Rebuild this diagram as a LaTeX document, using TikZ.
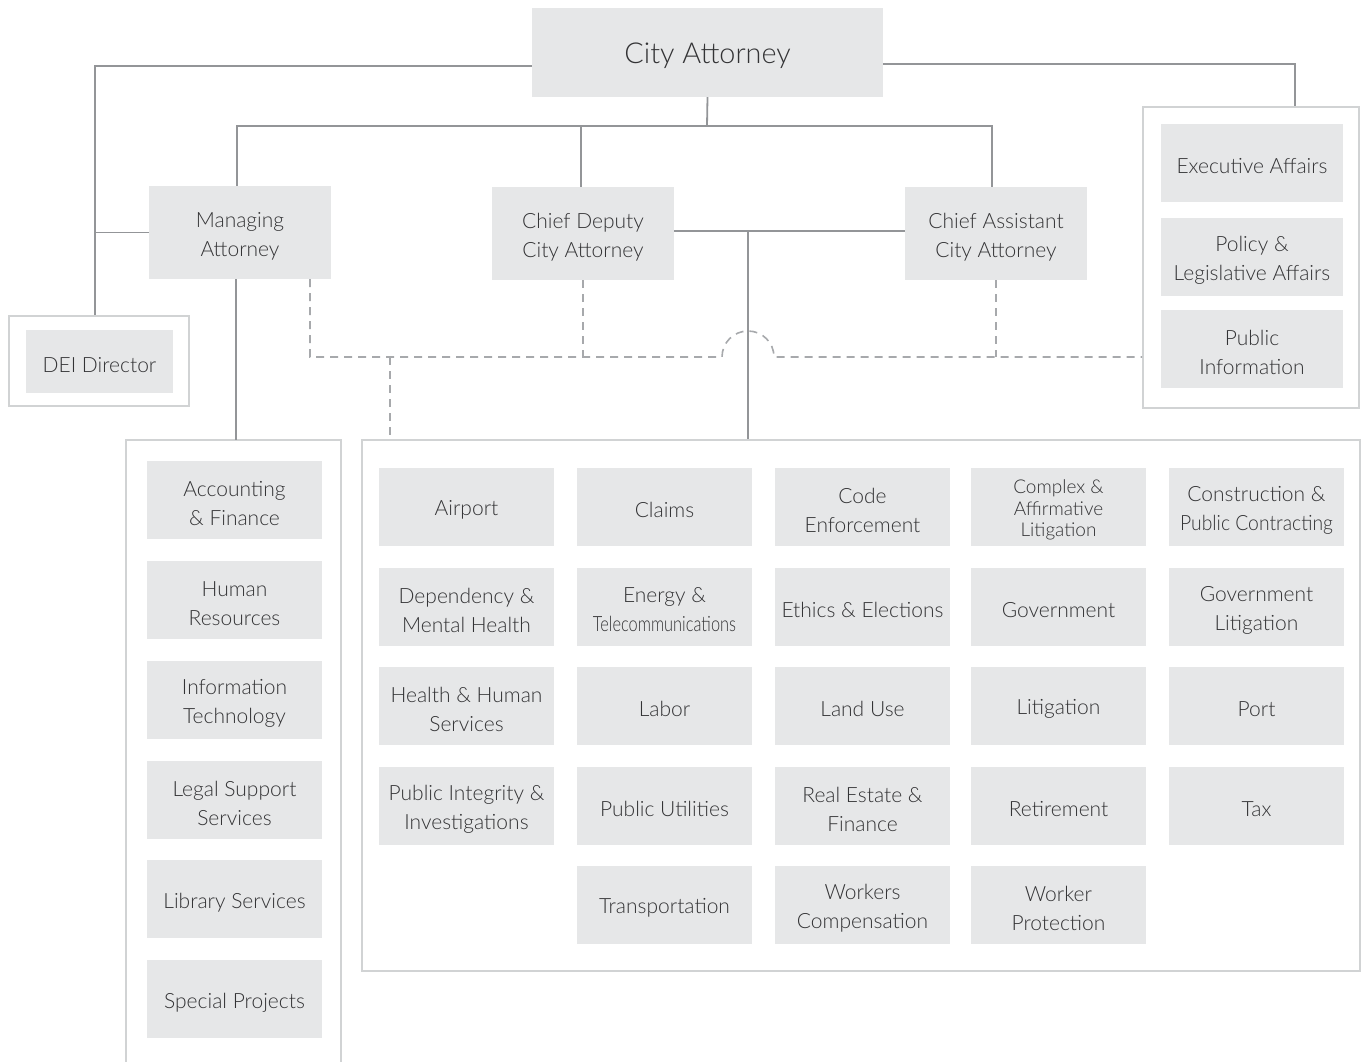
\documentclass[tikz,border=0pt]{standalone}
\usepackage{fontspec}
\setmainfont{Lato Light}
\usepackage{graphicx}
\usetikzlibrary{calc}
\definecolor{boxfill}{HTML}{E6E7E8}
\definecolor{txt}{HTML}{333335}
\definecolor{linegray}{HTML}{939598}
\definecolor{contline}{HTML}{D1D3D4}
\definecolor{dashgray}{HTML}{A7A9AC}
\begin{document}
\begin{tikzpicture}[x=1pt,y=-1pt,
  boxtext/.style={text=txt, align=center, inner sep=0pt, yshift=-3.5pt,
    font=\fontsize{21}{29}\selectfont},
  box/.style={fill=boxfill, inner sep=0pt, minimum width=175pt, minimum height=78pt,
    label={[boxtext]center:{#1}}},
  sbox/.style={fill=boxfill, inner sep=0pt, minimum width=175pt, minimum height=78pt,
    label={[boxtext, font=\fontsize{19}{21.5}\selectfont]center:{#1}}},
  bigbox/.style={fill=boxfill, inner sep=0pt,
    label={[boxtext, font=\fontsize{28.8}{34}\selectfont]center:{#1}}},
  cont/.style={draw=contline, line width=2pt, fill=white, inner sep=0pt},
  link/.style={draw=linegray, line width=1.8pt},
  dlink/.style={draw=dashgray, line width=1.6pt, dash pattern=on 8pt off 6pt}]
\useasboundingbox (0,0) rectangle (1361,1061);

% containers
\node[cont, minimum width=998pt, minimum height=531pt] (grid) at (861,705.5) {};
\node[cont, minimum width=216pt, minimum height=301pt] (rc) at (1251,257.5) {};
\node[cont, minimum width=180pt, minimum height=90pt] (dc) at (99,361) {};
\coordinate (ltop) at (236,440);
\draw[draw=contline, line width=2pt] (126,1065) -- (126,440) -- (341,440) -- (341,1065);

% top level
\node[bigbox={City Attorney}, minimum width=351pt, minimum height=89pt] (ca) at (707.5,52.5) {};
\node[box={Managing\\Attorney}, minimum width=182pt, minimum height=93pt] (ma) at (240,232.5) {};
\node[box={Chief Deputy\\City Attorney}, minimum width=182pt, minimum height=93pt] (cdc) at (583,233.5) {};
\node[box={Chief Assistant\\City Attorney}, minimum width=182pt, minimum height=93pt] (cac) at (996,233.5) {};

% right group
\node[box={Executive Affairs}, minimum width=182pt] (ea) at (1252,163) {};
\node[box={Policy \&\\Legislative Affairs}, minimum width=182pt] (pla) at (1252,257) {};
\node[box={Public\\Information}, minimum width=182pt] (pi) at (1252,349) {};

% DEI
\node[box={DEI Director}, minimum width=147pt, minimum height=63pt] (dei) at (99.5,361.5) {};

% left column
\node[box={Accounting\\\& Finance}] (af) at (234.5,500) {};
\node[box={Human\\Resources}] (hr) at (234.5,600) {};
\node[box={Information\\Technology}] (it) at (234.5,700) {};
\node[box={Legal Support\\Services}] (ls) at (234.5,800) {};
\node[box={Library Services}] (lib) at (234.5,899) {};
\node[box={Special Projects}] (sp) at (234.5,999) {};

% grid
\node[box={Airport}] (g11) at (466.5,506.5) {};
\node[box={Claims}] (g12) at (664.5,506.5) {};
\node[box={Code\\Enforcement}] (g13) at (862.5,506.5) {};
\node[sbox={Complex \&\\Affirmative\\Litigation}] (g14) at (1058.5,506.5) {};
\node[box={Construction \&\\\scalebox{0.92}[1]{Public Contracting}}] (g15) at (1256.5,506.5) {};

\node[box={Dependency \&\\Mental Health}] (g21) at (466.5,606.5) {};
\node[box={Energy \&\\\scalebox{0.78}[1]{Telecommunications}}] (g22) at (664.5,606.5) {};
\node[box={Ethics \& Elections}] (g23) at (862.5,606.5) {};
\node[box={Government}] (g24) at (1058.5,606.5) {};
\node[box={Government\\Litigation}] (g25) at (1256.5,606.5) {};

\node[box={Health \& Human\\Services}] (g31) at (466.5,705.5) {};
\node[box={Labor}] (g32) at (664.5,705.5) {};
\node[box={Land Use}] (g33) at (862.5,705.5) {};
\node[box={Litigation}] (g34) at (1058.5,705.5) {};
\node[box={Port}] (g35) at (1256.5,705.5) {};

\node[box={Public Integrity \&\\Investigations}] (g41) at (466.5,805.5) {};
\node[box={Public Utilities}] (g42) at (664.5,805.5) {};
\node[box={Real Estate \&\\Finance}] (g43) at (862.5,805.5) {};
\node[box={Retirement}] (g44) at (1058.5,805.5) {};
\node[box={Tax}] (g45) at (1256.5,805.5) {};

\node[box={Transportation}] (g52) at (664.5,904.5) {};
\node[box={Workers\\Compensation}] (g53) at (862.5,904.5) {};
\node[box={Worker\\Protection}] (g54) at (1058.5,904.5) {};

% solid connectors
\coordinate (deil) at ([xshift=-4pt]dc.north);
\coordinate (rcl) at ([xshift=44pt]rc.north);
\draw[link] ([yshift=-13.5pt]ca.west) -| (deil);
\draw[link] ([yshift=-11.5pt]ca.east) -| (rcl);
\draw[link] (ma.west) -- (ma.west -| deil);
\coordinate (bus) at (707,126);
\draw[link] (ca.south) -- (bus);
\draw[link] ([xshift=-3pt]ma.north) |- (bus) -| ([xshift=-4pt]cac.north);
\draw[link] ([xshift=-2pt]cdc.north) -- ([xshift=-2pt]cdc.north |- bus);
\draw[link] ([xshift=-4pt]ma.south) -- ([xshift=-4pt]ma.south |- ltop);
\coordinate (jn) at ($(cdc.east)!0.32!(cac.west)$);
\draw[link] ([yshift=2.5pt]cdc.east) -- ([yshift=2.5pt]cac.west);
\draw[link] ([yshift=2.5pt]jn) -- (jn |- grid.north);

% dashed connectors
\coordinate (d0) at (310,357);
\coordinate (d1) at (390,357);
\coordinate (arcL) at (722,357);
\draw[dlink] (d0 |- ma.south) -- (d0) -- (arcL) arc[start angle=180, end angle=360, radius=26] -- (rc.west |- d0);
\draw[dlink] (cdc.south) -- (cdc.south |- d0);
\draw[dlink] (cac.south) -- (cac.south |- d0);
\draw[dlink] (d1) -- (d1 |- grid.north);
\end{tikzpicture}
\end{document}
